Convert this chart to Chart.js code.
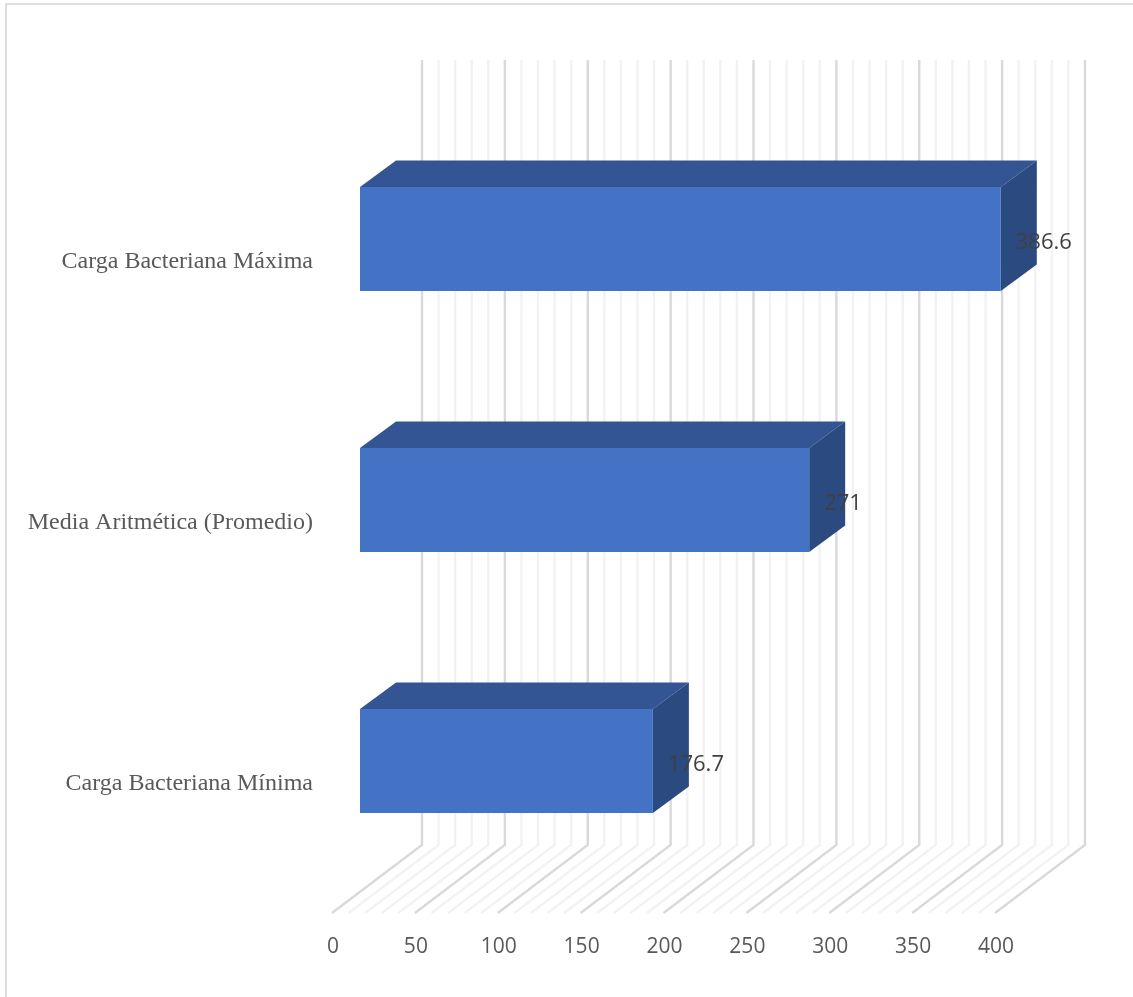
<!DOCTYPE html>
<html lang="es">
<head>
<meta charset="utf-8">
<title>Carga Bacteriana</title>
<script src="https://cdn.jsdelivr.net/npm/chart.js@4"></script>
<style>
  html, body { margin: 0; padding: 0; background: #fff; overflow: hidden; }
  #wrap { position: relative; width: 1133px; height: 997px; overflow: hidden; }
  #frame { position: absolute; left: 5px; top: 3px; width: 1200px; height: 1100px; border: 2px solid #dedede; }
  canvas { position: absolute; left: 0; top: 0; }
</style>
</head>
<body>
<div id="wrap">
  <div id="frame"></div>
  <canvas id="barChart" width="1133" height="997"></canvas>
</div>
<script>
const categories = ['Carga Bacteriana Máxima', 'Media Aritmética (Promedio)', 'Carga Bacteriana Mínima'];
const values = [386.6, 271, 176.7];
const tickLabels = [0, 50, 100, 150, 200, 250, 300, 350, 400];

const ctx = document.getElementById('barChart').getContext('2d');

// fake 3D: offsets of the walls and of the bar depth, in px
const wallDx = 62, floorDx = -28;
const wallTop = 60, wallBottom = 845, floorFront = 913;
const depthX = 36, depthY = -26.5;

function poly(c, color, pts) {
  c.fillStyle = color;
  c.beginPath();
  c.moveTo(pts[0][0], pts[0][1]);
  pts.slice(1).forEach(p => c.lineTo(p[0], p[1]));
  c.closePath();
  c.fill();
}

const box3d = {
  id: 'box3d',
  beforeDatasetsDraw(chart) {
    const c = chart.ctx;
    const xScale = chart.scales.x;

    // back wall and floor lines, minor ones first
    c.save();
    c.lineWidth = 2.4;
    [false, true].forEach(major => {
      c.strokeStyle = major ? '#d9d9d9' : '#f2f2f2';
      xScale.ticks.forEach(t => {
        if (tickLabels.includes(t.value) !== major) return;
        const x = xScale.getPixelForValue(t.value);
        c.beginPath();
        c.moveTo(x + wallDx, wallTop);
        c.lineTo(x + wallDx, wallBottom);
        c.lineTo(x + floorDx, floorFront);
        c.stroke();
      });
    });

    // top and side faces of the bars
    chart.getDatasetMeta(0).data.forEach(bar => {
      const top = bar.y - bar.height / 2;
      const bottom = bar.y + bar.height / 2;
      poly(c, '#335593', [[bar.base, top], [bar.base + depthX, top + depthY], [bar.x + depthX, top + depthY], [bar.x, top]]);
      poly(c, '#2a4a80', [[bar.x, top], [bar.x + depthX, top + depthY], [bar.x + depthX, bottom + depthY], [bar.x, bottom]]);
    });
    c.restore();
  },
  afterDatasetsDraw(chart) {
    const c = chart.ctx;
    c.save();
    c.font = '22px "Open Sans"';
    c.fillStyle = '#404040';
    c.textAlign = 'left';
    c.textBaseline = 'middle';
    chart.getDatasetMeta(0).data.forEach((bar, i) => {
      c.fillText(String(values[i]), bar.x + 15, bar.y + 4);
    });
    c.restore();
  }
};

new Chart(ctx, {
  type: 'bar',
  data: {
    labels: categories,
    datasets: [{
      data: values,
      backgroundColor: '#4472c4',
      borderWidth: 0,
      barPercentage: 0.398,
      categoryPercentage: 1
    }]
  },
  options: {
    indexAxis: 'y',
    responsive: false,
    animation: false,
    layout: { padding: { top: 108.5, right: 110, left: 0, bottom: 0 } },
    plugins: {
      legend: { display: false },
      tooltip: { enabled: false }
    },
    scales: {
      x: {
        min: 0,
        max: 400,
        grid: { display: false, drawTicks: false },
        border: { display: false },
        afterFit(scale) { scale.height = 105.5; },
        ticks: {
          stepSize: 10,
          autoSkip: false,
          maxRotation: 0,
          padding: 43,
          labelOffset: -27,
          color: '#595959',
          font: { family: '"Open Sans"', size: 21 },
          callback: v => tickLabels.includes(v) ? String(v) : ''
        }
      },
      y: {
        grid: { display: false, drawTicks: false },
        border: { display: false },
        afterFit(scale) { scale.width = 360; },
        ticks: {
          padding: 47,
          labelOffset: 23,
          color: '#595959',
          font: { family: '"Liberation Serif"', size: 24 }
        }
      }
    }
  },
  plugins: [box3d]
});
</script>
</body>
</html>
